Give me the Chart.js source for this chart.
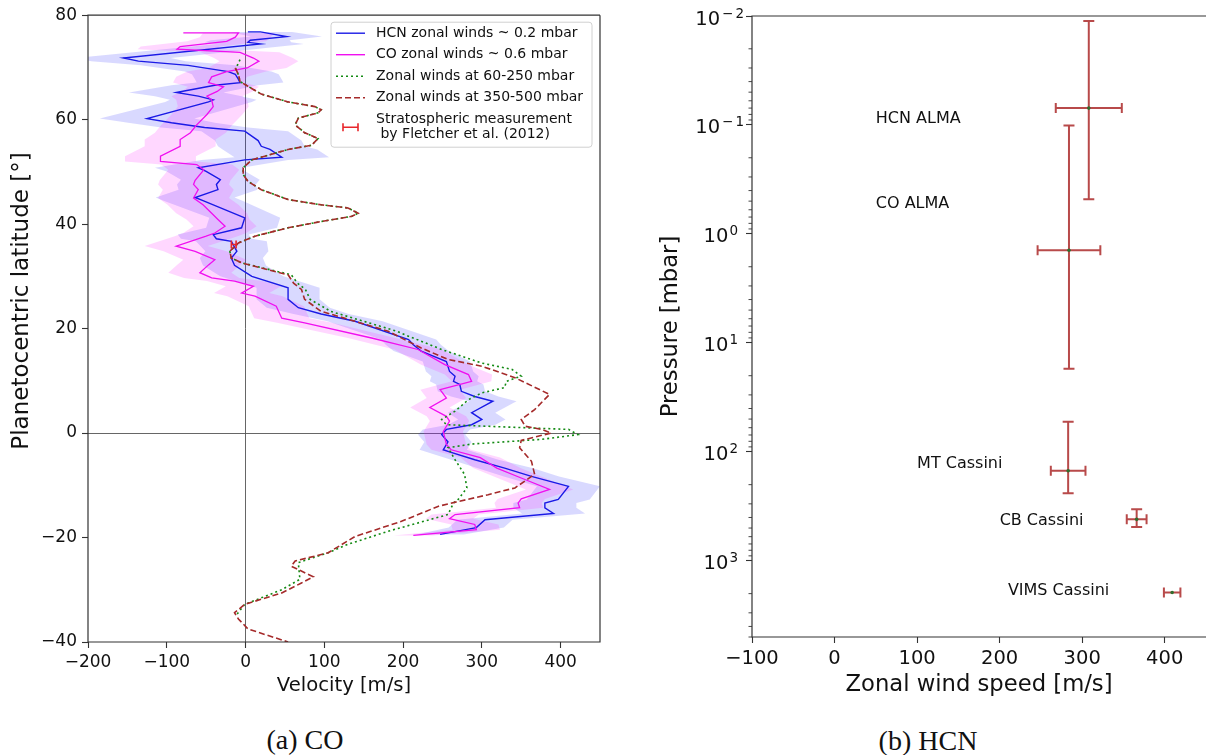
<!DOCTYPE html>
<html><head><meta charset="utf-8">
<script src="https://cdn.jsdelivr.net/npm/chart.js@4.4.1/dist/chart.umd.min.js"></script>
<style>
html,body{margin:0;padding:0;background:#fff;}
body{width:1206px;height:755px;position:relative;overflow:hidden;}
canvas{position:absolute;}
.cap{position:absolute;font-family:'Liberation Serif','Times New Roman',serif;font-size:28px;color:#111;text-align:center;width:240px;line-height:30px;}
</style></head><body>
<canvas id="left" width="620" height="698" style="left:0;top:0;width:620px;height:698px"></canvas>
<canvas id="right" width="576" height="699" style="left:630px;top:0;width:576px;height:699px"></canvas>
<div class="cap" style="left:185px;top:725px">(a) CO</div>
<div class="cap" style="left:808px;top:726px">(b) HCN</div>
<script>
// ---------------- Panel (a): zonal wind profiles ----------------
const hcnLat = [76.8, 76.8, 75.9, 75.2, 74.8, 74.5, 71.8, 71.2, 70.4, 69.2,
  68.7, 67.7, 67.1, 66.6, 65.2, 64.5, 63.8, 63.4, 60.2, 59.4,
  58.5, 57.8, 56.0, 54.9, 54.3, 52.8, 52.3, 50.8, 50.1, 48.5,
  47.6, 46.6, 45.1, 44.5, 41.2, 39.3, 38.0, 37.2, 36.7, 34.8,
  33.5, 32.1, 30.0, 27.8, 25.6, 24.0, 22.8, 21.4, 17.9, 16.9,
  15.7, 13.7, 11.8, 10.9, 9.9, 9.3, 8.0, 7.0, 6.1, 3.9,
  2.6, 1.6, 0.7, -0.3, -1.7, -3.2, -3.6, -5.1, -6.7, -8.3,
  -10.2, -12.7, -13.4, -14.3, -15.4, -16.6, -18.1, -19.4];
const hcnVel = [3, 19, 52, 6, 3, 19, -155, -136, -73, -22,
  -13, -9, -7, -39, -88, -60, -41, -47, -125, -94,
  -52, -1, 16, 20, 31, 46, -1, -60, -50, -32,
  -37, -35, -64, -54, -1, -5, -41, -37, -18, -11,
  -18, -14, 8, 54, 54, 67, 96, 139, 207, 213,
  223, 255, 259, 266, 264, 272, 274, 291, 314, 287,
  300, 287, 255, 249, 257, 251, 259, 291, 329, 363,
  410, 397, 380, 380, 391, 304, 293, 247];
const hcnErr = [40, 40, 45, 50, 55, 55,
  60, 60, 60, 55, 55, 55, 55, 55, 60, 55, 55, 55,
  60, 55, 55, 55, 55, 55, 60, 60, 55, 55, 50, 50, 50, 50, 50, 50,
  45, 45, 45, 45, 45, 40, 40, 40, 40, 40, 40, 40, 35, 35,
  35, 35, 35, 30, 30, 30, 30, 30, 30, 30, 30, 30, 30, 30, 30, 30, 30, 30, 30,
  30, 35, 35, 40, 40, 40, 40, 40, 35, 35, 30];

const coLat = [76.6, 76.6, 75.8, 75.0, 74.0, 73.5, 72.9, 71.8, 71.2, 69.9,
  69.2, 68.2, 67.1, 66.3, 65.4, 64.5, 63.8, 62.5, 61.0, 59.0,
  57.5, 56.2, 54.9, 53.0, 52.0, 51.4, 50.4, 48.4, 47.6, 46.6,
  45.0, 43.7, 42.1, 40.9, 39.6, 38.3, 37.7, 35.8, 34.8, 33.2,
  32.2, 30.7, 29.7, 29.1, 28.1, 26.8, 26.2, 24.3, 22.0, 21.1,
  18.2, 16.0, 13.1, 11.2, 9.9, 8.3, 6.7, 4.9, 3.2, 2.3,
  0.3, -2.2, -3.2, -4.7, -6.7, -8.6, -10.8, -12.6, -13.4, -14.3,
  -15.6, -16.4, -17.5, -18.5, -19.6];
const coVel = [-79, -9, -13, -24, -83, -87, -7, 10, 17, 2,
  -24, -43, -47, -28, -36, -49, -43, -41, -49, -62,
  -70, -83, -83, -108, -108, -62, -53, -64, -66, -60,
  -66, -54, -43, -35, -26, -39, -50, -88, -64, -39,
  -47, -58, -43, -14, 10, -5, 12, 39, 46, 75,
  160, 219, 253, 283, 287, 247, 255, 234, 255, 259,
  251, 255, 261, 298, 319, 350, 386, 350, 346, 348,
  266, 259, 291, 293, 213];
const coErr = [40, 45, 45, 50, 50, 50, 50,
  50, 50, 50, 50, 45, 45, 45, 45, 45, 45, 45, 45, 45, 45, 45, 45, 45, 45, 45, 45,
  45, 45, 45, 45, 45, 45, 40, 40, 40, 40, 40, 40, 40, 40, 40, 35, 35, 35, 35, 35, 35, 35, 35,
  30, 30, 30, 30, 25, 25, 25, 25, 25, 25, 25, 25, 25, 25, 30, 30, 30, 30, 30, 30, 30, 30, 30, 30, 25];

const tropoLat = [71.5, 70.5, 69.9, 68.6, 67.3, 66.4, 64.9, 63.4, 62.5, 61.9,
  61.3, 60.3, 59.0, 57.5, 56.4, 55.1, 54.3, 53.2, 52.3, 50.8,
  49.5, 48.2, 46.6, 44.7, 43.7, 43.1, 42.1, 41.5, 40.5, 39.3,
  37.7, 36.4, 34.8, 33.5, 32.6, 31.6, 30.3, 28.7, 27.5, 25.6,
  23.3, 21.4, 19.5, 18.85, 16.0, 13.4, 12.2, 10.9, 9.9, 8.7,
  7.7, 6.4, 4.2, 2.6, 1.6, 0.7, -0.3, -1.2, -2.1, -2.8,
  -5.1, -7.9, -10.5, -12.7, -13.4, -15.6, -18.8, -21.3, -22.9, -24.8,
  -28.0, -30.0, -32.8, -34.7];
const tropoVel = [-7, -10, -13, -9, -7, 3, 20, 54, 88, 96,
  92, 67, 63, 75, 92, 84, 54, 29, 8, -3,
  -3, 3, 20, 54, 96, 130, 143, 135, 96, 54,
  12, -9, -20, -18, -5, 22, 58, 66, 76, 82,
  108, 150, 192, 202, 249, 300, 338, 350, 331, 329,
  300, 283, 266, 249, 255, 410, 422, 376, 287, 257,
  266, 278, 281, 270, 264, 257, 181, 130, 105, 67,
  69, 46, -1, -11];

const deepLat = [69.9, 68.6, 67.3, 66.4, 64.9, 63.4, 62.5, 61.9, 61.3, 60.3,
  59.0, 57.5, 56.4, 55.1, 54.3, 53.2, 52.3, 50.8, 49.5, 48.2,
  46.6, 44.7, 43.7, 43.1, 42.1, 41.5, 40.5, 39.3, 37.7, 36.4,
  34.8, 33.5, 32.6, 31.6, 30.3, 28.7, 27.5, 25.6, 23.3, 21.4,
  19.5, 18.5, 16.3, 14.1, 12.8, 10.6, 7.4, 4.5, 2.6, 1.3,
  0.7, 0.0, -1.4, -2.8, -5.4, -7.9, -10.5, -11.8, -13.1, -14.0,
  -16.9, -19.8, -22.9, -24.5, -25.5, -27.5, -28.7, -30.6, -32.8, -34.4,
  -35.6, -37.5, -40.0];
const deepVel = [-13, -9, -7, 3, 20, 54, 88, 96, 92, 67,
  63, 75, 92, 84, 54, 29, 8, -3, -3, 3,
  20, 54, 96, 130, 143, 135, 96, 54, 12, -9,
  -20, -18, -5, 20, 54, 61, 71, 75, 96, 139,
  181, 194, 223, 257, 300, 342, 386, 367, 350, 355,
  376, 388, 350, 348, 363, 367, 342, 308, 270, 245,
  198, 139, 105, 63, 58, 86, 71, 46, -1, -14,
  -9, 3, 54];

const fletcherLat = [36.1];
const fletcherVel = [-15];
const fletcherErr = [3];

const latTicks = [-40, -20, 0, 20, 40, 60, 80];
const velTicksA = [-200, -100, 0, 100, 200, 300, 400];
const legendA = ['HCN zonal winds ~ 0.2 mbar', 'CO zonal winds ~ 0.6 mbar',
  'Zonal winds at 60-250 mbar', 'Zonal winds at 350-500 mbar',
  'Stratospheric measurement', ' by Fletcher et al. (2012)'];
const latTitle = 'Planetocentric latitude [°]';

// ---------------- Panel (b): wind speed vs pressure ----------------
const instruments = ['HCN ALMA', 'CO ALMA', 'MT Cassini', 'CB Cassini', 'VIMS Cassini'];
const windSpeed = [308, 284, 283, 366, 409];
const windErr = [40, 38, 21, 12, 10];
const pressure = [0.07, 1.41, 149, 416, 1950];
const pressTop = [0.0111, 0.101, 53, 337, 1950];
const pressBottom = [0.48, 17.3, 240, 489, 1950];
const labelSpeed = [50, 50, 100, 200, 210];
const labelPress = [0.088, 0.53, 130, 428, 1900];
const pressExpTicks = [-2, -1, 0, 1, 2, 3];
const speedTicksB = [-100, 0, 100, 200, 300, 400];

// ---------------- helpers ----------------
const FONT = "'DejaVu Sans', 'Liberation Sans', sans-serif";
Chart.defaults.font.family = FONT;
Chart.defaults.color = '#111';
const minus = v => (v < 0 ? '\u2212' + Math.abs(v) : String(v));
const pts = (lat, vel) => lat.map((y, i) => ({x: vel[i], y}));
const band = (lat, vel, err) => {
  const up = lat.map((y, i) => ({x: vel[i] + err[i], y}));
  const lo = lat.map((y, i) => ({x: vel[i] - err[i], y})).reverse();
  return up.concat(lo);
};
const ticksFrom = arr => scale => { scale.ticks = arr.map(v => ({value: v})); };

const C_HCN = '#1a1ae6', C_CO = '#f010f0', C_GREEN = '#138a13', C_BROWN = '#a52a2a', C_RED = '#e8262b';

const makeSpines = (drawRight) => ({
  id: 'spines',
  afterDatasetsDraw(chart) {
    const {ctx, chartArea: a} = chart;
    ctx.save();
    ctx.strokeStyle = '#333'; ctx.lineWidth = 1.2;
    ctx.beginPath();
    ctx.moveTo(a.right, a.top); ctx.lineTo(a.left, a.top); ctx.lineTo(a.left, a.bottom); ctx.lineTo(a.right, a.bottom);
    if (drawRight) { ctx.lineTo(a.right, a.top); }
    ctx.stroke();
    ctx.restore();
  }
});

const leftDecor = {
  id: 'leftDecor',
  afterDatasetsDraw(chart) {
    const {ctx, scales: {x, y}} = chart;
    ctx.save();
    ctx.strokeStyle = C_RED; ctx.lineWidth = 1.6;
    fletcherVel.forEach((v, i) => {
      const x1 = x.getPixelForValue(v - fletcherErr[i]), x2 = x.getPixelForValue(v + fletcherErr[i]);
      const py = y.getPixelForValue(fletcherLat[i]);
      ctx.beginPath();
      ctx.moveTo(x1, py); ctx.lineTo(x2, py);
      ctx.moveTo(x1, py - 4); ctx.lineTo(x1, py + 4);
      ctx.moveTo(x2, py - 4); ctx.lineTo(x2, py + 4);
      ctx.stroke();
    });
    ctx.restore();
  },
  afterDraw(chart) {
    const ctx = chart.ctx;
    const a = chart.chartArea;
    // y-axis title
    ctx.save();
    ctx.translate(22, 301);
    ctx.rotate(-Math.PI / 2);
    ctx.font = '23px ' + FONT; ctx.fillStyle = '#111';
    ctx.textAlign = 'center'; ctx.textBaseline = 'middle';
    ctx.fillText(latTitle, 0, 0);
    ctx.restore();
    // legend
    const bx = a.right - 269, by = a.top + 7, bw = 261, bh = 125, r = 3;
    ctx.save();
    ctx.beginPath();
    ctx.moveTo(bx + r, by); ctx.lineTo(bx + bw - r, by); ctx.quadraticCurveTo(bx + bw, by, bx + bw, by + r);
    ctx.lineTo(bx + bw, by + bh - r); ctx.quadraticCurveTo(bx + bw, by + bh, bx + bw - r, by + bh);
    ctx.lineTo(bx + r, by + bh); ctx.quadraticCurveTo(bx, by + bh, bx, by + bh - r);
    ctx.lineTo(bx, by + r); ctx.quadraticCurveTo(bx, by, bx + r, by);
    ctx.closePath();
    ctx.fillStyle = 'rgba(255,255,255,0.85)'; ctx.fill();
    ctx.strokeStyle = '#d0d0d0'; ctx.lineWidth = 1; ctx.stroke();
    const styles = [
      {c: C_HCN, d: [], w: 1.4}, {c: C_CO, d: [], w: 1.4},
      {c: C_GREEN, d: [2, 3], w: 1.6}, {c: C_BROWN, d: [6, 3], w: 1.6}
    ];
    const rows = [by + 11, by + 32.5, by + 54, by + 75.5];
    const hx1 = bx + 5, hx2 = bx + 34, tx = bx + 45;
    ctx.font = '14px ' + FONT; ctx.fillStyle = '#111'; ctx.textBaseline = 'middle'; ctx.textAlign = 'left';
    styles.forEach((s, i) => {
      ctx.strokeStyle = s.c; ctx.lineWidth = s.w; ctx.setLineDash(s.d);
      ctx.beginPath(); ctx.moveTo(hx1, rows[i]); ctx.lineTo(hx2, rows[i]); ctx.stroke();
      ctx.fillText(legendA[i], tx, rows[i]);
    });
    ctx.setLineDash([]);
    const ey = by + 105, ex1 = bx + 12, ex2 = bx + 27;
    ctx.strokeStyle = C_RED; ctx.lineWidth = 1.6;
    ctx.beginPath();
    ctx.moveTo(ex1, ey); ctx.lineTo(ex2, ey);
    ctx.moveTo(ex1, ey - 4); ctx.lineTo(ex1, ey + 4);
    ctx.moveTo(ex2, ey - 4); ctx.lineTo(ex2, ey + 4);
    ctx.stroke();
    ctx.fillText(legendA[4], tx, by + 97);
    ctx.fillText(legendA[5], tx, by + 112);
    ctx.restore();
  }
};

new Chart(document.getElementById('left'), {
  type: 'line',
  data: {datasets: [
    {data: band(hcnLat, hcnVel, hcnErr), borderWidth: 0, borderColor: 'transparent',
     backgroundColor: 'rgba(30,30,255,0.17)', fill: 'shape', pointRadius: 0, order: 10},
    {data: band(coLat, coVel, coErr), borderWidth: 0, borderColor: 'transparent',
     backgroundColor: 'rgba(255,20,255,0.17)', fill: 'shape', pointRadius: 0, order: 9},
    {data: pts(hcnLat, hcnVel), borderColor: C_HCN, borderWidth: 1.4, pointRadius: 0, fill: false, order: 4},
    {data: pts(coLat, coVel), borderColor: C_CO, borderWidth: 1.3, pointRadius: 0, fill: false, order: 3},
    {data: pts(tropoLat, tropoVel), borderColor: C_GREEN, borderWidth: 1.6, borderDash: [2, 3], pointRadius: 0, fill: false, order: 2},
    {data: pts(deepLat, deepVel), borderColor: C_BROWN, borderWidth: 1.6, borderDash: [6, 3], pointRadius: 0, fill: false, order: 1}
  ]},
  options: {
    responsive: false, animation: false, devicePixelRatio: 1,
    layout: {autoPadding: false, padding: {left: 0, right: 20, top: 15, bottom: 0}},
    elements: {line: {tension: 0}},
    plugins: {legend: {display: false}, tooltip: {enabled: false}},
    scales: {
      x: {
        type: 'linear', min: -200, max: 450,
        afterBuildTicks: ticksFrom(velTicksA),
        afterFit: s => { s.height = 56; },
        border: {display: false},
        grid: {drawOnChartArea: true, drawTicks: true, tickLength: 6, tickColor: '#333', tickWidth: 1.1,
               lineWidth: 0.9, color: c => (c.tick && c.tick.value === 0 ? '#555' : 'rgba(0,0,0,0)')},
        ticks: {padding: 4, font: {size: 17}, color: '#111', callback: v => minus(v)},
        title: {display: true, text: 'Velocity [m/s]', font: {size: 19.6}, color: '#111', padding: {top: 0, bottom: 0}}
      },
      y: {
        type: 'linear', min: -40, max: 80,
        afterBuildTicks: ticksFrom(latTicks),
        afterFit: s => { s.width = 88; },
        border: {display: false},
        grid: {drawOnChartArea: true, drawTicks: true, tickLength: 6, tickColor: '#333', tickWidth: 1.1,
               lineWidth: 0.9, color: c => (c.tick && c.tick.value === 0 ? '#555' : 'rgba(0,0,0,0)')},
        ticks: {padding: 5, font: {size: 17}, color: '#111', callback: v => minus(v)},
        title: {display: false}
      }
    }
  },
  plugins: [makeSpines(true), leftDecor]
});

const errorBars = {
  id: 'errorBars',
  beforeDatasetsDraw(chart) {
    const {ctx, scales: {x, y}} = chart;
    ctx.save();
    ctx.strokeStyle = '#b84a4a'; ctx.lineWidth = 2;
    windSpeed.forEach((v, i) => {
      const px = x.getPixelForValue(v), py = y.getPixelForValue(pressure[i]);
      const x1 = x.getPixelForValue(v - windErr[i]), x2 = x.getPixelForValue(v + windErr[i]);
      const y1 = y.getPixelForValue(pressTop[i]), y2 = y.getPixelForValue(pressBottom[i]);
      ctx.beginPath();
      ctx.moveTo(x1, py); ctx.lineTo(x2, py);
      ctx.moveTo(x1, py - 5); ctx.lineTo(x1, py + 5);
      ctx.moveTo(x2, py - 5); ctx.lineTo(x2, py + 5);
      if (Math.abs(y2 - y1) > 1) {
        ctx.moveTo(px, y1); ctx.lineTo(px, y2);
        ctx.moveTo(px - 5.5, y1); ctx.lineTo(px + 5.5, y1);
        ctx.moveTo(px - 5.5, y2); ctx.lineTo(px + 5.5, y2);
      }
      ctx.stroke();
    });
    ctx.restore();
  }
};

const rightDecor = {
  id: 'rightDecor',
  afterDraw(chart) {
    const {ctx, scales: {x, y}} = chart;
    ctx.save();
    // minor ticks of the log axis
    ctx.strokeStyle = '#333'; ctx.lineWidth = 0.9;
    for (let e = -2; e <= 3; e++) {
      for (let m = 2; m <= 9; m++) {
        const v = m * Math.pow(10, e);
        if (v > y.max) continue;
        const py = y.getPixelForValue(v);
        ctx.beginPath(); ctx.moveTo(y.right - 3.5, py); ctx.lineTo(y.right, py); ctx.stroke();
      }
    }
    // 10^n labels
    ctx.fillStyle = '#111'; ctx.textBaseline = 'alphabetic'; ctx.textAlign = 'left';
    pressExpTicks.forEach(e => {
      const py = y.getPixelForValue(Math.pow(10, e));
      ctx.font = '19.5px ' + FONT; const wb = ctx.measureText('10').width;
      ctx.font = '13.5px ' + FONT;
      const digit = String(Math.abs(e));
      const wd = ctx.measureText(digit).width;
      const wm = e < 0 ? ctx.measureText('\u2212').width + 3 : 0;
      const R = y.right - (e < 0 ? 8 : 14);
      const x0 = R - wb - 1 - wm - wd;
      ctx.font = '19.5px ' + FONT; ctx.fillText('10', x0, py + 8.5);
      ctx.font = '13.5px ' + FONT;
      let xe = x0 + wb + 1;
      if (e < 0) { ctx.fillText('\u2212', xe + 1, py + 1.5); xe += wm; }
      ctx.fillText(digit, xe, py + 1.5);
    });
    // annotations
    ctx.font = '16px ' + FONT; ctx.textBaseline = 'middle';
    instruments.forEach((t, i) => {
      ctx.fillText(t, x.getPixelForValue(labelSpeed[i]), y.getPixelForValue(labelPress[i]));
    });
    ctx.restore();
  }
};

new Chart(document.getElementById('right'), {
  type: 'line',
  data: {datasets: [{
    data: windSpeed.map((v, i) => ({x: v, y: pressure[i]})),
    showLine: false, pointRadius: 1.8, pointBackgroundColor: '#2f6e2f', pointBorderColor: '#2f6e2f', pointBorderWidth: 0
  }]},
  options: {
    responsive: false, animation: false, devicePixelRatio: 1,
    layout: {autoPadding: false, padding: {left: 0, right: 0, top: 16, bottom: 0}},
    plugins: {legend: {display: false}, tooltip: {enabled: false}},
    scales: {
      x: {
        type: 'linear', min: -100, max: 450,
        afterBuildTicks: ticksFrom(speedTicksB),
        afterFit: s => { s.height = 62; },
        border: {display: false},
        grid: {drawOnChartArea: false, drawTicks: true, tickLength: 6, tickColor: '#333', tickWidth: 1.1},
        ticks: {padding: 4, font: {size: 19.5}, color: '#111', callback: v => minus(v)},
        title: {display: true, text: 'Zonal wind speed [m/s]', font: {size: 22.7}, color: '#111', padding: {top: 0, bottom: 0}}
      },
      y: {
        type: 'logarithmic', reverse: true, min: 0.01, max: 5000,
        afterBuildTicks: s => { s.ticks = pressExpTicks.map(e => ({value: Math.pow(10, e)})); },
        afterFit: s => { s.width = 122; },
        border: {display: false},
        grid: {drawOnChartArea: false, drawTicks: true, tickLength: 6, tickColor: '#333', tickWidth: 1.1},
        ticks: {display: false},
        title: {display: true, text: 'Pressure [mbar]', font: {size: 22.7}, color: '#111', padding: {top: 27.4, bottom: 0}}
      }
    }
  },
  plugins: [makeSpines(false), errorBars, rightDecor]
});
</script>
</body></html>
